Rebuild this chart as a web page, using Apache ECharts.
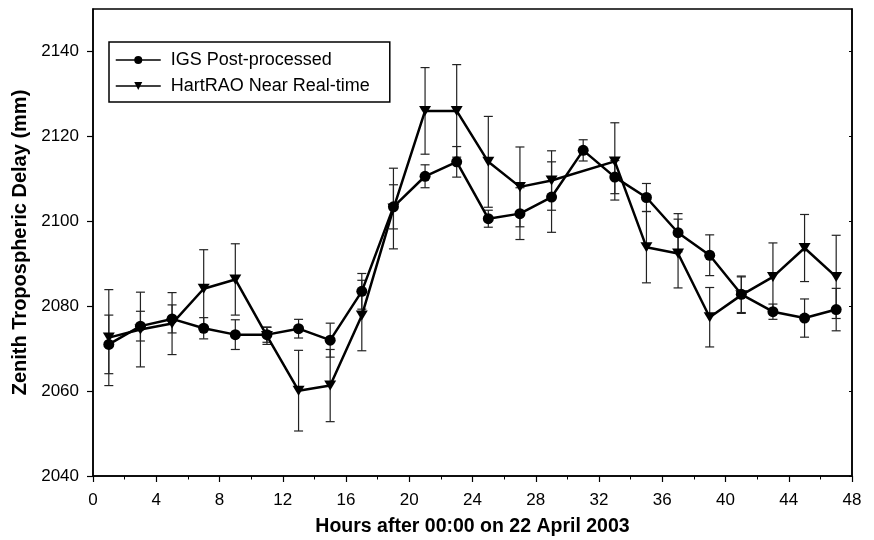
<!DOCTYPE html>
<html>
<head>
<meta charset="utf-8">
<script src="https://cdn.jsdelivr.net/npm/echarts@6/dist/echarts.min.js"></script>
<style>
  html, body { margin: 0; padding: 0; background: #fff; }
  #main { width: 874px; height: 540px; }
</style>
</head>
<body>
<div id="main"></div>
<script>
// hours after 00:00 on 22 April 2003
const hours = [1, 3, 5, 7, 9, 11, 13, 15, 17, 19, 21, 23, 25, 27, 29, 31, 33, 35, 37, 39, 41, 43, 45, 47]
// IGS post-processed ZTD (mm) and its error
const igs = [2071.0, 2075.3, 2077.0, 2074.8, 2073.3, 2073.3, 2074.7, 2072.0, 2083.5, 2103.4, 2110.6, 2114.0,
  2100.6, 2101.8, 2105.7, 2116.7, 2110.4, 2105.6, 2097.3, 2092.0, 2082.8, 2078.7, 2077.2, 2079.2]
const igsErr = [6.9, 3.5, 3.3, 2.5, 3.5, 1.8, 2.2, 4.0, 4.2, 5.2, 2.7, 3.6,
  2.0, 6.1, 8.3, 2.5, 3.9, 3.3, 4.5, 4.8, 4.3, 1.8, 4.5, 5.0]
// HartRAO near real-time ZTD (mm) and its error (no value at 31 h)
const hart = [2072.6, 2074.5, 2075.9, 2084.1, 2086.3, 2073.0, 2060.1, 2061.3, 2077.8, 2103.0, 2126.0, 2126.0,
  2114.0, 2108.1, 2109.6, null, 2114.1, 2093.9, 2092.4, 2077.4, 2082.6, 2086.9, 2093.7, 2086.9]
const hartErr = [11.3, 8.8, 7.3, 9.2, 8.4, 2.0, 9.5, 8.5, 8.3, 9.5, 10.2, 10.9,
  10.7, 9.4, 7.0, null, 9.1, 8.4, 8.1, 7.0, 4.3, 8.0, 7.9, 9.8]
const yTicks = [2040, 2060, 2080, 2100, 2120, 2140]

const FONT = 'Liberation Sans, Arial, sans-serif'
const downTri = 'path://M0,0 L12,0 L6,10 Z'

function pairs (vals) {
  return hours.map((h, i) => [h, vals[i]])
}
function bars (vals, errs) {
  const out = []
  hours.forEach((h, i) => {
    if (vals[i] == null) return
    out.push([h, vals[i] - errs[i], vals[i] + errs[i]])
  })
  return out
}

// 误差棒
function errorBar (params, api) {
  const lo = api.coord([api.value(0), api.value(1)])
  const hi = api.coord([api.value(0), api.value(2)])
  const w = 4.5
  const style = { stroke: '#222', lineWidth: 1.2 }
  return {
    type: 'group',
    children: [
      { type: 'line', shape: { x1: lo[0], y1: lo[1], x2: hi[0], y2: hi[1] }, style },
      { type: 'line', shape: { x1: lo[0] - w, y1: lo[1], x2: lo[0] + w, y2: lo[1] }, style },
      { type: 'line', shape: { x1: hi[0] - w, y1: hi[1], x2: hi[0] + w, y2: hi[1] }, style }
    ]
  }
}

const chart = echarts.init(document.getElementById('main'))
const option = {
  animation: false,
  backgroundColor: '#fff',
  textStyle: { fontFamily: FONT },
  grid: {
    left: 93, right: 22, top: 9, bottom: 64,
    outerBoundsMode: 'none',
    show: true, borderColor: '#000', borderWidth: 1.5
  },
  legend: {
    left: 109,
    top: 42,
    orient: 'vertical',
    data: ['IGS Post-processed', 'HartRAO Near Real-time'],
    itemWidth: 45,
    itemHeight: 10,
    itemGap: 6,
    padding: [8, 20, 6, 6],
    borderColor: '#000',
    borderWidth: 1.5,
    backgroundColor: '#fff',
    lineStyle: { width: 1.5 },
    textStyle: { fontFamily: FONT, fontSize: 18, color: '#000', lineHeight: 20, padding: [0, 0, 0, 5] }
  },
  xAxis: {
    type: 'value',
    min: 0,
    max: 48,
    interval: 4,
    name: 'Hours after 00:00 on 22 April 2003',
    nameLocation: 'middle',
    nameGap: 41,
    nameTextStyle: { fontFamily: FONT, fontSize: 19.5, fontWeight: 'bold', color: '#000' },
    axisLine: { lineStyle: { color: '#000', width: 1.5 } },
    axisTick: { length: 6, lineStyle: { color: '#000', width: 1.2 } },
    minorTick: { show: true, splitNumber: 2, length: 3.5, lineStyle: { color: '#000', width: 1 } },
    axisLabel: { fontFamily: FONT, fontSize: 17, color: '#000', margin: 16 },
    splitLine: { show: false }
  },
  yAxis: [
    {
      type: 'value',
      min: 2040,
      max: 2150,
      interval: 20,
      name: 'Zenith Tropospheric Delay (mm)',
      nameLocation: 'middle',
      nameGap: 58,
      nameTextStyle: { fontFamily: FONT, fontSize: 20, fontWeight: 'bold', color: '#000' },
      axisLine: { show: true, lineStyle: { color: '#000', width: 1.5 } },
      axisTick: { show: true, length: 6, customValues: yTicks, lineStyle: { color: '#000', width: 1.2 } },
      axisLabel: {
        fontFamily: FONT, fontSize: 17, color: '#000', margin: 14, customValues: yTicks,
        formatter: v => String(v)
      },
      splitLine: { show: false }
    },
    {
      type: 'value',
      min: 2040,
      max: 2150,
      interval: 20,
      position: 'right',
      axisLine: { show: true, lineStyle: { color: '#000', width: 1.5 } },
      axisTick: { show: true, inside: true, length: 3, customValues: yTicks, lineStyle: { color: '#000', width: 1 } },
      axisLabel: { show: false },
      splitLine: { show: false }
    }
  ],
  series: [
    {
      type: 'custom',
      name: 'igsErr',
      renderItem: errorBar,
      data: bars(igs, igsErr),
      encode: { x: 0, y: [1, 2] },
      z: 1,
      silent: true
    },
    {
      type: 'custom',
      name: 'hartErr',
      renderItem: errorBar,
      data: bars(hart, hartErr),
      encode: { x: 0, y: [1, 2] },
      z: 1,
      silent: true
    },
    {
      name: 'IGS Post-processed',
      type: 'line',
      data: pairs(igs),
      symbol: 'circle',
      symbolSize: 11,
      itemStyle: { color: '#000' },
      lineStyle: { color: '#000', width: 2.5 },
      z: 3
    },
    {
      name: 'HartRAO Near Real-time',
      type: 'line',
      data: pairs(hart),
      connectNulls: true,
      symbol: downTri,
      symbolSize: [12, 10],
      itemStyle: { color: '#000' },
      lineStyle: { color: '#000', width: 2.5 },
      z: 3
    }
  ]
}
option && chart.setOption(option)
</script>
</body>
</html>
